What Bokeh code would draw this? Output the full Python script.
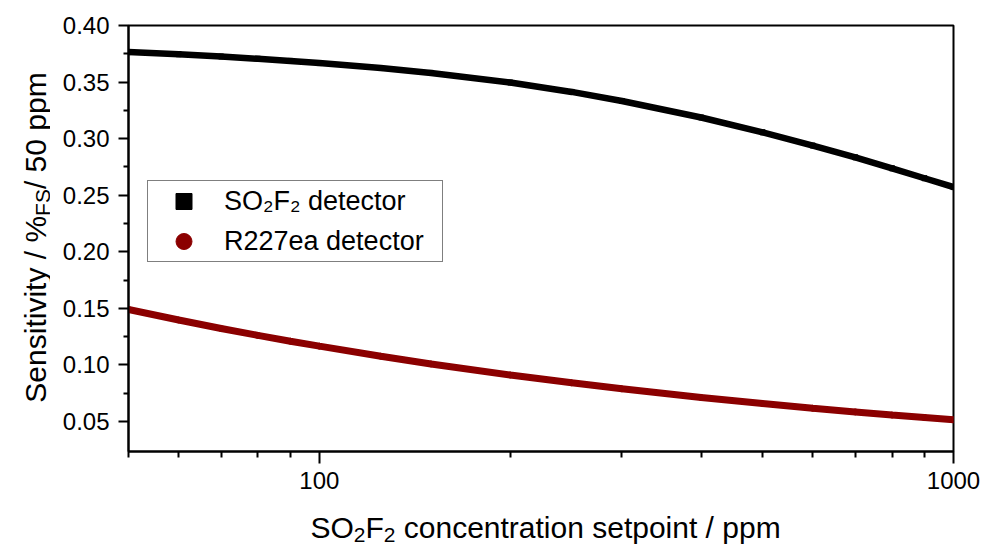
from bokeh.plotting import figure
from bokeh.layouts import gridplot
from bokeh.models import (Range1d, FixedTicker, PrintfTickFormatter, Legend,
                          LegendItem)
from bokeh.core.properties import value
from bokeh.embed import file_html
from bokeh.resources import INLINE

# SO2F2 setpoints (ppm) and the sensitivity of each detector at them
setpoint_ppm = [50, 60, 70, 80, 90, 100, 125, 150, 200, 250, 300, 400,
                500, 600, 700, 800, 900, 1000]
so2f2_sens = [0.3765, 0.3746, 0.3726, 0.3706, 0.3687, 0.3668, 0.3624, 0.3581,
              0.3496, 0.3413, 0.3333, 0.3187, 0.3056, 0.2939, 0.2835, 0.2738,
              0.2650, 0.2572]
r227ea_sens = [0.1490, 0.1397, 0.1322, 0.1261, 0.1210, 0.1166, 0.1077, 0.1009,
               0.0911, 0.0842, 0.0789, 0.0713, 0.0659, 0.0617, 0.0585, 0.0557,
               0.0535, 0.0515]

x_major = [100, 1000]
x_minor = [50, 60, 70, 80, 90, 200, 300, 400, 500, 600, 700, 800, 900]
y_major = [0.05, 0.10, 0.15, 0.20, 0.25, 0.30, 0.35, 0.40]
y_minor = [0.075, 0.125, 0.175, 0.225, 0.275, 0.325, 0.375]

FONT = "Liberation Sans"
BLACK = "#000000"
DARK_RED = "#8B0000"

# page geometry (pixels)
LEFT_W = 50                      # strip holding the vertical axis title
MAIN_W, MAIN_H = 945, 503
BOTTOM_H = 47                    # strip holding the horizontal axis title
B_LEFT, B_RIGHT, B_TOP, B_BOTTOM = 78, 42, 25, 52
FRAME_X0 = LEFT_W + B_LEFT                 # 128
FRAME_X1 = LEFT_W + MAIN_W - B_RIGHT       # 953
FRAME_Y0 = B_TOP                           # 25
FRAME_Y1 = MAIN_H - B_BOTTOM               # 451

p = figure(width=MAIN_W, height=MAIN_H, x_axis_type="log", title=None,
           x_range=Range1d(50, 1000), y_range=Range1d(0.0235, 0.40),
           output_backend="svg", toolbar_location=None,
           min_border_left=B_LEFT, min_border_right=B_RIGHT,
           min_border_top=B_TOP, min_border_bottom=B_BOTTOM)
p.background_fill_color = "white"
p.border_fill_color = "white"
p.outline_line_color = BLACK
p.outline_line_width = 2
p.grid.visible = False

# curves: thick line through the points plus the markers themselves
p.line(setpoint_ppm, so2f2_sens, line_color=BLACK, line_width=6.5)
sq = p.scatter(setpoint_ppm, so2f2_sens, marker="square", size=5,
               fill_color=BLACK, line_color=BLACK)
p.line(setpoint_ppm, r227ea_sens, line_color=DARK_RED, line_width=7)
ci = p.scatter(setpoint_ppm, r227ea_sens, marker="circle", size=6,
               fill_color=DARK_RED, line_color=DARK_RED)

# axes
xa = p.xaxis[0]
xa.ticker = FixedTicker(ticks=x_major, minor_ticks=x_minor)
xa.formatter = PrintfTickFormatter(format="%d")
ya = p.yaxis[0]
ya.ticker = FixedTicker(ticks=y_major, minor_ticks=y_minor)
ya.formatter = PrintfTickFormatter(format="%.2f")
for ax in (xa, ya):
    ax.axis_line_color = BLACK
    ax.axis_line_width = 2
    ax.major_tick_line_color = BLACK
    ax.major_tick_line_width = 2
    ax.minor_tick_line_color = BLACK
    ax.minor_tick_line_width = 2
    ax.major_tick_in = 0
    ax.minor_tick_in = 0
    ax.major_label_text_font = FONT
    ax.major_label_text_font_size = "24px"
    ax.major_label_text_color = BLACK
xa.major_tick_out = 12
xa.minor_tick_out = 6
xa.major_label_standoff = 8
ya.major_tick_out = 10
ya.minor_tick_out = 5
ya.major_label_standoff = 9

# legend
legend = Legend(items=[LegendItem(label="SO\u2082F\u2082 detector", renderers=[sq]),
                       LegendItem(label="R227ea detector", renderers=[ci])],
                location=(19, 189), orientation="vertical",
                padding=0, spacing=0, margin=0,
                glyph_width=71, glyph_height=40, label_height=40,
                label_width=218, label_standoff=5, label_text_font=FONT,
                label_text_font_size="27px", label_text_color=BLACK,
                border_line_color=BLACK, border_line_width=1.5,
                background_fill_color="white", background_fill_alpha=1.0)
p.add_layout(legend, "center")


def title_strip(width, height, x_range, y_range, borders):
    """Blank figure whose data units are page pixels (y counted downward as -y)."""
    bl, br, bt, bb = borders
    f = figure(width=width, height=height, x_range=x_range, y_range=y_range,
               output_backend="svg", title=None, toolbar_location=None,
               x_axis_location=None, y_axis_location=None,
               min_border_left=bl, min_border_right=br,
               min_border_top=bt, min_border_bottom=bb)
    f.outline_line_color = None
    f.grid.visible = False
    f.background_fill_color = "white"
    f.border_fill_color = "white"
    return f


# Arial/Liberation advance widths (1/1000 em) for the title characters
ADV = {"S": 667, "O": 778, "F": 611, "2": 556, " ": 278, "c": 500, "o": 556,
       "n": 556, "e": 556, "t": 278, "r": 333, "a": 556, "i": 222, "s": 500,
       "p": 556, "/": 278, "m": 833, "v": 500, "y": 500, "%": 889, "5": 556,
       "0": 556}


def text_width(s, size):
    return sum(ADV[ch] for ch in s) * size / 1000.0


MAIN_PX, SUB_PX = 30, 21


def draw_title(f, pieces, start, base, sub_drop, vertical):
    """Write a title piece by piece so subscripts can be smaller and lower."""
    pos = start
    for txt, is_sub, lead_space in pieces:
        if lead_space:
            pos += text_width(" ", MAIN_PX)
        size = SUB_PX if is_sub else MAIN_PX
        drop = sub_drop if is_sub else 0
        if vertical:
            f.text(x=[base + drop], y=[pos], text=[txt], angle=1.5707963267948966,
                   text_font=value(FONT), text_font_size=value(f"{size}px"),
                   text_color=BLACK, text_align="left",
                   text_baseline="alphabetic")
        else:
            f.text(x=[pos], y=[base - drop], text=[txt],
                   text_font=value(FONT), text_font_size=value(f"{size}px"),
                   text_color=BLACK, text_align="left",
                   text_baseline="alphabetic")
        pos += text_width(txt, size)


# vertical title: Sensitivity / %FS/ 50 ppm  (reads bottom to top)
left = title_strip(LEFT_W, MAIN_H, Range1d(0, LEFT_W),
                   Range1d(-FRAME_Y1, -FRAME_Y0), (0, 0, B_TOP, B_BOTTOM))
y_title = [("Sensitivity / %", False, False), ("FS", True, False),
           ("/ 50 ppm", False, False)]
y_total = (text_width("Sensitivity / %", MAIN_PX) + text_width("FS", SUB_PX)
           + text_width("/ 50 ppm", MAIN_PX))
y_mid = 237
draw_title(left, y_title, -y_mid - y_total / 2, 35, 7, True)

# horizontal title: SO2F2 concentration setpoint / ppm
bottom = title_strip(MAIN_W, BOTTOM_H, Range1d(FRAME_X0, FRAME_X1),
                     Range1d(-(MAIN_H + BOTTOM_H), -MAIN_H),
                     (B_LEFT, B_RIGHT, 0, 0))
x_title = [("SO", False, False), ("2", True, False), ("F", False, False),
           ("2", True, False), ("concentration setpoint / ppm", False, True)]
x_total = (text_width("SO", MAIN_PX) + text_width("F", MAIN_PX)
           + 2 * text_width("2", SUB_PX)
           + text_width(" concentration setpoint / ppm", MAIN_PX))
x_mid = 545
draw_title(bottom, x_title, x_mid - x_total / 2, -527, 7.4, False)

layout = gridplot([[left, p], [None, bottom]], toolbar_location=None)

open("out.html", "w").write(file_html(layout, INLINE))
